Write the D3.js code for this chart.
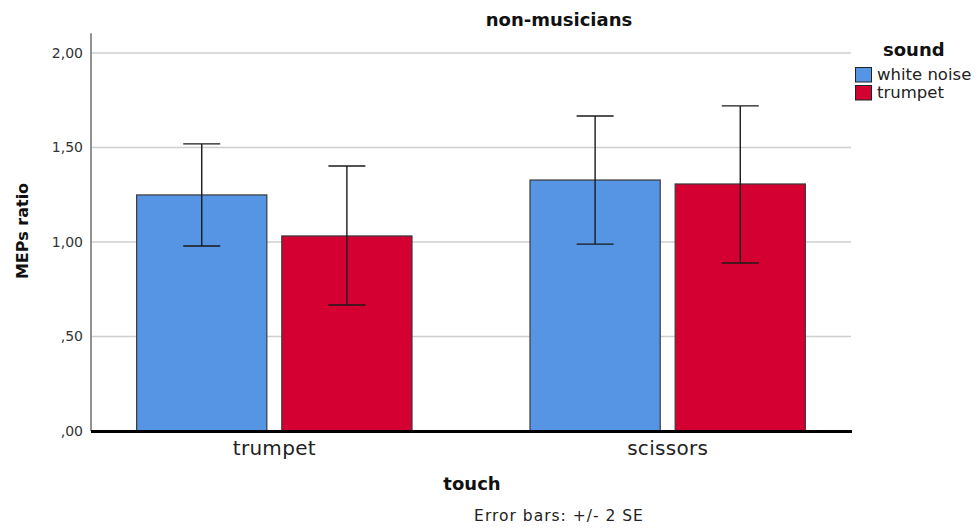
<!DOCTYPE html>
<html>
<head>
<meta charset="utf-8">
<script src="https://cdn.jsdelivr.net/npm/d3@7"></script>
<style>
  body { margin: 0; background: #fff; }
  svg { display: block; font-family: "DejaVu Sans", Verdana, sans-serif; }
</style>
</head>
<body>
<svg id="chart" width="978" height="528"></svg>
<script>
// ---- data ----
const categories = ["trumpet", "scissors"];
const seriesNames = ["white noise", "trumpet"];
const seriesColors = ["#5595E3", "#D50032"];
const whiteNoiseMeans = [1.249, 1.328];
const trumpetMeans = [1.032, 1.307];
const whiteNoiseLow = [0.979, 0.989];
const whiteNoiseHigh = [1.519, 1.667];
const trumpetLow = [0.667, 0.889];
const trumpetHigh = [1.402, 1.720];
const yTicks = [0, 0.5, 1.0, 1.5, 2.0];
const titleText = "non-musicians";
const xTitle = "touch";
const yTitle = "MEPs ratio";
const legendTitle = "sound";
const noteText = "Error bars: +/- 2 SE";

const rows = [];
categories.forEach((c, i) => {
  rows.push({cat: c, s: 0, v: whiteNoiseMeans[i], lo: whiteNoiseLow[i], hi: whiteNoiseHigh[i]});
  rows.push({cat: c, s: 1, v: trumpetMeans[i], lo: trumpetLow[i], hi: trumpetHigh[i]});
});

// ---- layout ----
const svg = d3.select("#chart");
const left = 91, right = 851, bottom = 431;
const y = d3.scaleLinear().domain([0, 2]).range([bottom, 53]);
const yTop = y(2.105);
const x0 = d3.scaleBand().domain(categories).range([left, right]).paddingInner(0.3).paddingOuter(0.116);
const x1 = d3.scaleBand().domain([0, 1]).range([0, x0.bandwidth()]).paddingInner(0.103);

// gridlines
svg.append("g").selectAll("line").data(yTicks.filter(d => d > 0)).join("line")
  .attr("x1", left).attr("x2", right)
  .attr("y1", d => y(d)).attr("y2", d => y(d))
  .attr("stroke", "#cfcfcf").attr("stroke-width", 1.3);

// y axis
const fmt = d => d3.format(".2f")(d).replace(".", ",").replace(/^0/, "");
const yAxis = d3.axisLeft(y).tickValues(yTicks).tickFormat(fmt).tickSize(0).tickPadding(8);
const gy = svg.append("g").attr("transform", `translate(${left},0)`).call(yAxis);
gy.select(".domain").remove();
gy.selectAll("text").attr("font-size", 14).attr("fill", "#333").attr("font-family", "DejaVu Sans");
svg.append("line").attr("x1", left).attr("x2", left).attr("y1", yTop).attr("y2", bottom)
  .attr("stroke", "#777").attr("stroke-width", 1.6);

// bars
const bars = svg.append("g");
bars.selectAll("rect").data(rows).join("rect")
  .attr("x", d => x0(d.cat) + x1(d.s))
  .attr("width", x1.bandwidth())
  .attr("y", d => y(d.v))
  .attr("height", d => y(0) - y(d.v))
  .attr("fill", d => seriesColors[d.s])
  .attr("stroke", "#3a3a3a").attr("stroke-width", 1.2);

// error bars
const capW = 37;
const eg = svg.append("g").attr("stroke", "#1a1a1a").attr("stroke-width", 1.4);
rows.forEach(d => {
  const cx = x0(d.cat) + x1(d.s) + x1.bandwidth() / 2;
  eg.append("line").attr("x1", cx).attr("x2", cx).attr("y1", y(d.hi)).attr("y2", y(d.lo));
  eg.append("line").attr("x1", cx - capW / 2).attr("x2", cx + capW / 2).attr("y1", y(d.hi)).attr("y2", y(d.hi));
  eg.append("line").attr("x1", cx - capW / 2).attr("x2", cx + capW / 2).attr("y1", y(d.lo)).attr("y2", y(d.lo));
});

// baseline
svg.append("line").attr("x1", left).attr("x2", right + 1).attr("y1", y(0) + 0.5).attr("y2", y(0) + 0.5)
  .attr("stroke", "#000").attr("stroke-width", 3);

// x axis labels
const xAxis = d3.axisBottom(x0).tickSize(0).tickPadding(0);
const gx = svg.append("g").attr("transform", `translate(0,${bottom})`).call(xAxis);
gx.select(".domain").remove();
gx.selectAll("text").attr("dy", null).attr("y", 24).attr("font-size", 20)
  .attr("fill", "#222").attr("font-family", "DejaVu Sans").attr("letter-spacing", 0.3);

// titles
const noteCenter = 559;
svg.append("text").attr("x", noteCenter).attr("y", 26).attr("text-anchor", "middle")
  .attr("font-weight", "bold").attr("font-size", 18).attr("fill", "#111").text(titleText);
svg.append("text").attr("x", 472).attr("y", 490).attr("text-anchor", "middle")
  .attr("font-weight", "bold").attr("font-size", 18).attr("fill", "#111").text(xTitle);
svg.append("text").attr("transform", `translate(28,231) rotate(-90)`).attr("text-anchor", "middle")
  .attr("font-weight", "bold").attr("font-size", 16).attr("fill", "#111").text(yTitle);
svg.append("text").attr("x", noteCenter).attr("y", 521).attr("text-anchor", "middle")
  .attr("font-size", 15.5).attr("letter-spacing", 1).attr("fill", "#222").text(noteText);

// legend
svg.append("text").attr("x", 883).attr("y", 56).attr("font-weight", "bold")
  .attr("font-size", 18).attr("fill", "#111").text(legendTitle);
const lg = svg.append("g").attr("transform", "translate(855,67)");
seriesNames.forEach((n, i) => {
  lg.append("rect").attr("x", 0.5).attr("y", i * 18 + 0.5).attr("width", 16).attr("height", 14.5)
    .attr("fill", seriesColors[i]).attr("stroke", "#222").attr("stroke-width", 1);
  lg.append("text").attr("x", 22).attr("y", i * 18 + 13).attr("font-size", 16.5)
    .attr("fill", "#222").text(n);
});
</script>
</body>
</html>
